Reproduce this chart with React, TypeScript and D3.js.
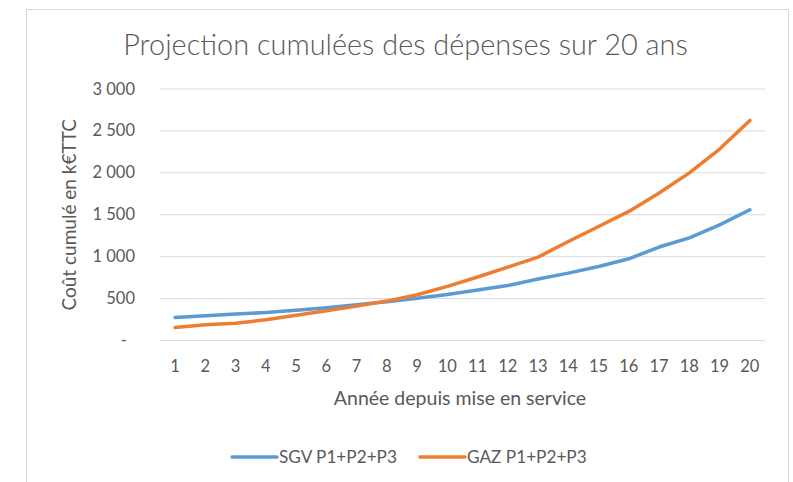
import React from "react";
import * as d3 from "d3";

const years = [1, 2, 3, 4, 5, 6, 7, 8, 9, 10, 11, 12, 13, 14, 15, 16, 17, 18, 19, 20];
const sgv = [274, 295, 315, 334, 362, 392, 428, 462, 505, 550, 603, 656, 734, 804, 883, 975, 1115, 1225, 1380, 1560];
const gaz = [155, 187, 207, 247, 300, 355, 410, 470, 545, 645, 757, 876, 995, 1181, 1360, 1540, 1759, 2000, 2284, 2625];
const yTicks = [0, 500, 1000, 1500, 2000, 2500, 3000];
const seriesNames = ["SGV P1+P2+P3", "GAZ P1+P2+P3"];
const colors = ["#5B9BD5", "#ED7D31"];

const W = 793;
const H = 482;
const font = "Lato, 'Open Sans', sans-serif";
const textColor = "#595959";

const fmt = (v: number) => (v === 0 ? "-" : d3.format(",")(v).replace(",", " "));

export default function App() {
  const x = d3.scalePoint<number>().domain(years).range([160, 765]).padding(0.5);
  const y = d3.scaleLinear().domain([0, 3000]).range([340.5, 89]);

  const line = d3
    .line<number>()
    .x((_, i) => x(years[i]) as number)
    .y((d) => y(d));

  const series = [sgv, gaz];

  return (
    <svg
      width={W}
      height={H}
      style={{ position: "absolute", left: 0, top: 0, display: "block", background: "#fff" }}
      fontFamily={font}
    >
      <rect x={26.5} y={9.5} width={762} height={490} fill="#fff" stroke="#d9d9d9" />

      <text x={405.5} y={55} textAnchor="middle" fontSize={28.9} fontWeight={300} fill={textColor}>
        Projection cumulées des dépenses sur 20 ans
      </text>

      {yTicks.map((t) => (
        <g key={t}>
          <line x1={160} x2={765} y1={y(t)} y2={y(t)} stroke="#d9d9d9" strokeWidth={1} />
          <text
            x={t === 0 ? 127 : 135}
            y={y(t) + 5.5}
            textAnchor="end"
            fontSize={16.5}
            fill={textColor}
          >
            {fmt(t)}
          </text>
        </g>
      ))}

      {years.map((yr) => (
        <text key={yr} x={x(yr)} y={372} textAnchor="middle" fontSize={16.5} fill={textColor}>
          {yr}
        </text>
      ))}

      <text x={460} y={405} textAnchor="middle" fontSize={19.5} fill={textColor}>
        Année depuis mise en service
      </text>

      <text
        transform={`translate(76, ${(y(0) + y(3000)) / 2}) rotate(-90)`}
        textAnchor="middle"
        fontSize={19}
        fill={textColor}
      >
        Coût cumulé en k€TTC
      </text>

      {series.map((s, i) => (
        <path
          key={i}
          d={line(s) as string}
          fill="none"
          stroke={colors[i]}
          strokeWidth={3.5}
          strokeLinecap="round"
          strokeLinejoin="round"
        />
      ))}

      {seriesNames.map((name, i) => {
        const lx = i === 0 ? 232 : 420;
        return (
          <g key={name}>
            <line x1={lx} x2={lx + 45} y1={457} y2={457} stroke={colors[i]} strokeWidth={3.5} strokeLinecap="round" />
            <text x={lx + 47} y={462.5} fontSize={17.2} fill={textColor}>
              {name}
            </text>
          </g>
        );
      })}
    </svg>
  );
}
